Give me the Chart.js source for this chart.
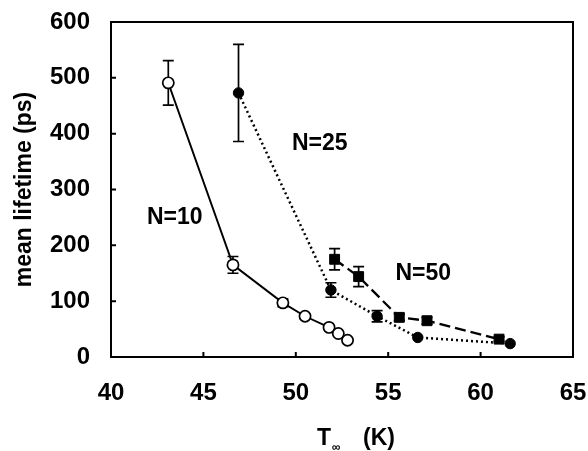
<!DOCTYPE html>
<html>
<head>
<meta charset="utf-8">
<script src="https://cdn.jsdelivr.net/npm/chart.js@4.4.6/dist/chart.umd.js"></script>
<style>
  html, body { margin: 0; padding: 0; background: #fff; }
  #wrap { width: 588px; height: 451px; }
</style>
</head>
<body>
<div id="wrap"><canvas id="chart" width="588" height="451"></canvas></div>
<script>
// temperatures (K) and mean lifetimes (ps)
const tempN10 = [43.1, 46.6, 49.3, 50.5, 51.8, 52.3, 52.8];
const lifeN10 = [491, 165, 97, 73, 53, 42, 30];
const errN10 = [40, 15, 7, 4, 0, 0, 0];

const tempN25 = [46.9, 51.9, 54.4, 56.6, 61.6];
const lifeN25 = [473, 120, 73, 35, 24];
const errN25 = [87, 13, 10, 0, 0];

const tempN50 = [52.1, 53.4, 55.6, 57.1, 61.0];
const lifeN50 = [175, 144, 71, 65, 32];
const errN50 = [19, 18, 6, 6, 4];

const xTicks = [40, 45, 50, 55, 60, 65];
const yTicks = [0, 100, 200, 300, 400, 500, 600];

const seriesLabels = ['N=10', 'N=25', 'N=50'];
// label anchor in data units (T, lifetime)
const labelAt = [[43.45, 250], [51.3, 383], [56.9, 150]];

const yTitle = 'mean lifetime (ps)';
const xTitleMain = 'T';
const xTitleSub = '\u221e';
const xTitleUnit = '(K)';

const FONT = "'Liberation Sans', Arial, sans-serif";
const ink = '#000';

const toPts = (xs, ys) => xs.map((x, i) => ({ x, y: ys[i] }));

const errorSets = [errN10, errN25, errN50];

const errorBars = {
  id: 'errorBars',
  beforeDatasetsDraw(chart) {
    const { ctx, scales: { x, y } } = chart;
    ctx.save();
    ctx.strokeStyle = ink;
    ctx.lineWidth = 1.7;
    chart.data.datasets.forEach((ds, i) => {
      const errs = errorSets[i];
      ds.data.forEach((p, j) => {
        const e = errs[j];
        if (!e) return;
        const px = x.getPixelForValue(p.x);
        const top = y.getPixelForValue(p.y + e);
        const bot = y.getPixelForValue(p.y - e);
        ctx.beginPath();
        ctx.moveTo(px, top); ctx.lineTo(px, bot);
        ctx.moveTo(px - 5.5, top); ctx.lineTo(px + 5.5, top);
        ctx.moveTo(px - 5.5, bot); ctx.lineTo(px + 5.5, bot);
        ctx.stroke();
      });
    });
    ctx.restore();
  }
};

const frame = {
  id: 'frame',
  afterDraw(chart) {
    const { ctx, chartArea: a, scales: { x, y } } = chart;
    ctx.save();
    ctx.strokeStyle = ink;
    ctx.lineWidth = 2;
    ctx.strokeRect(a.left, a.top, a.right - a.left, a.bottom - a.top);
    // inward tick marks
    ctx.beginPath();
    xTicks.slice(1, -1).forEach((t) => {
      const px = x.getPixelForValue(t);
      ctx.moveTo(px, a.bottom); ctx.lineTo(px, a.bottom - 5);
    });
    yTicks.slice(1, -1).forEach((t) => {
      const py = y.getPixelForValue(t);
      ctx.moveTo(a.left, py); ctx.lineTo(a.left + 5, py);
    });
    ctx.stroke();

    // series labels
    ctx.fillStyle = ink;
    ctx.font = `bold 23px ${FONT}`;
    ctx.textAlign = 'center';
    ctx.textBaseline = 'middle';
    seriesLabels.forEach((s, i) => {
      ctx.fillText(s, x.getPixelForValue(labelAt[i][0]), y.getPixelForValue(labelAt[i][1]));
    });

    // x axis title with subscript
    ctx.textAlign = 'left';
    ctx.textBaseline = 'alphabetic';
    ctx.font = `bold 23px ${FONT}`;
    ctx.fillText(xTitleMain, 317, 445);
    ctx.font = `bold 12px ${FONT}`;
    ctx.fillText(xTitleSub, 332, 451);
    ctx.font = `bold 23px ${FONT}`;
    ctx.fillText(xTitleUnit, 363, 445);
    ctx.restore();
  }
};

new Chart(document.getElementById('chart'), {
  type: 'scatter',
  data: {
    datasets: [
      {
        label: seriesLabels[0],
        data: toPts(tempN10, lifeN10),
        showLine: true,
        borderColor: ink,
        borderWidth: 1.9,
        pointStyle: 'circle',
        pointRadius: 5.6,
        pointBorderWidth: 1.7,
        pointBackgroundColor: '#fff',
        pointBorderColor: ink
      },
      {
        label: seriesLabels[1],
        data: toPts(tempN25, lifeN25),
        showLine: true,
        borderColor: ink,
        borderWidth: 2.5,
        borderDash: [2, 3],
        pointStyle: 'circle',
        pointRadius: 5.2,
        pointBorderWidth: 1,
        pointBackgroundColor: ink,
        pointBorderColor: ink
      },
      {
        label: seriesLabels[2],
        data: toPts(tempN50, lifeN50),
        showLine: true,
        borderColor: ink,
        borderWidth: 2.3,
        borderDash: [11, 5],
        pointStyle: 'rect',
        pointRadius: 7,
        pointBorderWidth: 1,
        pointBackgroundColor: ink,
        pointBorderColor: ink
      }
    ]
  },
  options: {
    responsive: false,
    animation: false,
    layout: { padding: { top: 22, right: 15, left: 0, bottom: 0 } },
    plugins: { legend: { display: false }, tooltip: { enabled: false } },
    scales: {
      x: {
        type: 'linear',
        min: 40,
        max: 65,
        afterBuildTicks: (s) => { s.ticks = xTicks.map((v) => ({ value: v })); },
        afterFit: (s) => { s.height = 94; s.paddingLeft = 0; s.paddingRight = 0; },
        grid: { display: false, drawTicks: false },
        border: { display: false },
        ticks: { color: ink, padding: 22, font: { family: FONT, size: 24, weight: 'bold' } }
      },
      y: {
        type: 'linear',
        min: 0,
        max: 600,
        afterBuildTicks: (s) => { s.ticks = yTicks.map((v) => ({ value: v })); },
        afterFit: (s) => { s.width = 111; s.paddingTop = 0; s.paddingBottom = 0; },
        grid: { display: false, drawTicks: false },
        border: { display: false },
        ticks: { color: ink, padding: 21, font: { family: FONT, size: 24, weight: 'bold' } },
        title: {
          display: true,
          text: yTitle,
          color: ink,
          padding: { top: 11, bottom: 0 },
          font: { family: FONT, size: 23, weight: 'bold' }
        }
      }
    }
  },
  plugins: [errorBars, frame]
});
</script>
</body>
</html>
